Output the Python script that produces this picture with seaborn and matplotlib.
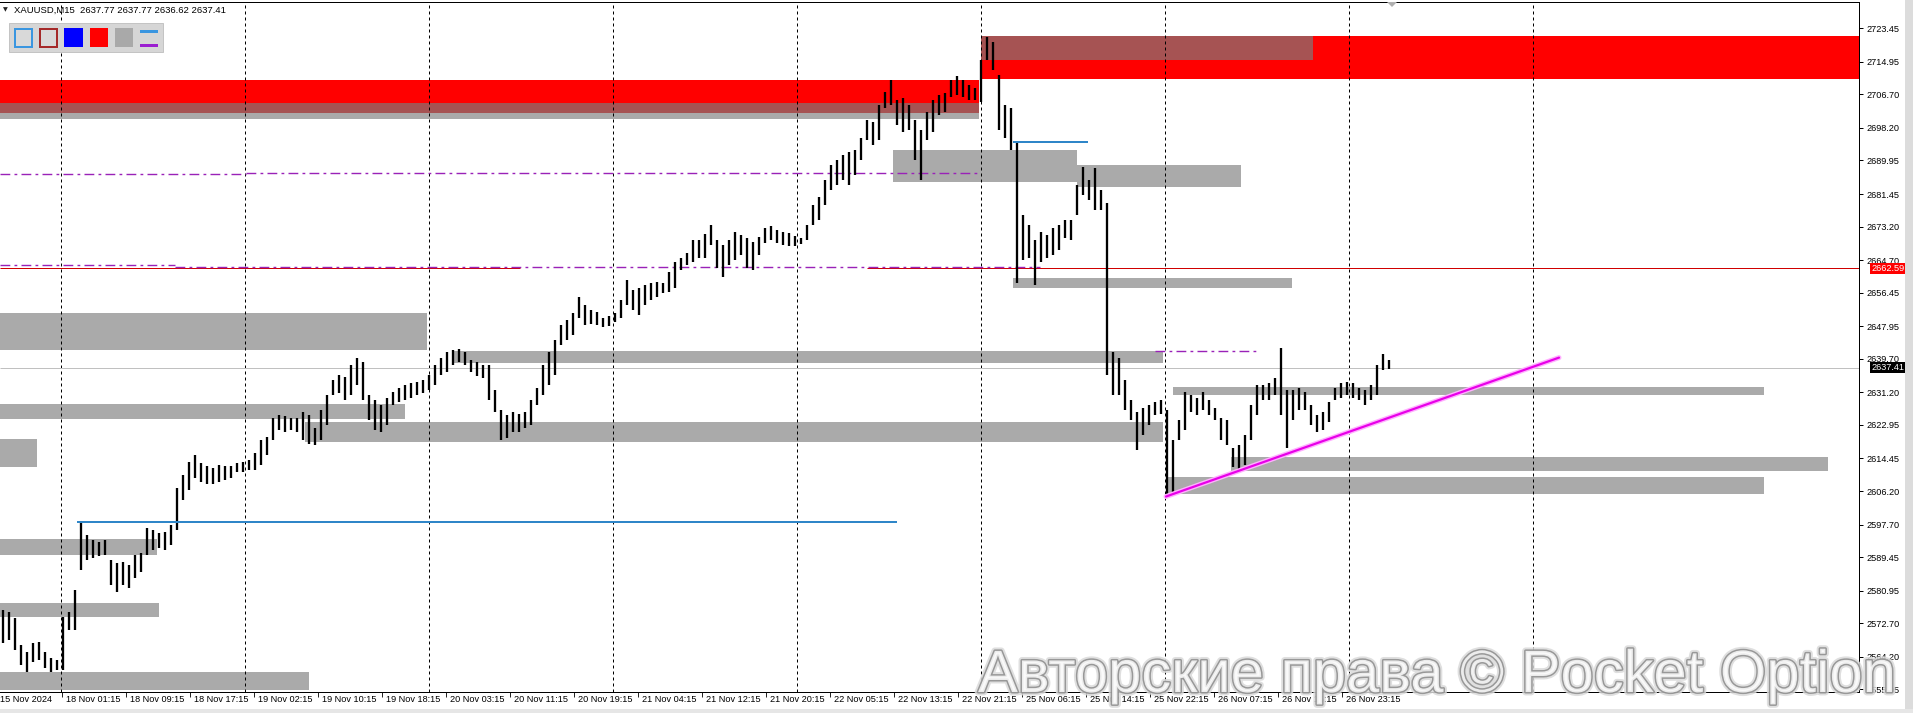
import numpy as np
import pandas as pd
import matplotlib
matplotlib.use('Agg')
import matplotlib.pyplot as plt
import matplotlib.patches as mpatches
import matplotlib.transforms as mtransforms
import matplotlib.patheffects as pe
import seaborn as sns

sns.set_theme(style='white')
plt.rcParams['font.family'] = ['Liberation Sans', 'DejaVu Sans']

# ---- data (XAUUSD M15), one sample per 3 bars ----
bar_hi = [2576.0, 2575.5, 2574.0, 2567.2, 2565.4, 2567.7, 2567.9, 2565.4, 2563.9, 2563.4,
          2574.3, 2575.5, 2581.1, 2598.1, 2595.0, 2593.8, 2593.3, 2593.8, 2588.7, 2587.9,
          2588.2, 2587.4, 2590.0, 2590.5, 2596.8, 2596.3, 2595.5, 2595.8, 2597.6, 2606.9,
          2610.2, 2613.5, 2615.3, 2613.3, 2612.5, 2612.0, 2612.8, 2612.5, 2612.5, 2613.3,
          2613.5, 2614.0, 2615.8, 2619.1, 2619.9, 2624.7, 2625.4, 2625.2, 2624.7, 2624.7,
          2626.2, 2625.4, 2622.1, 2626.7, 2630.5, 2634.3, 2635.6, 2635.1, 2638.1, 2639.9,
          2638.9, 2630.5, 2629.2, 2628.0, 2629.7, 2631.3, 2632.3, 2633.0, 2633.5, 2633.8,
          2634.3, 2635.6, 2638.1, 2639.9, 2641.4, 2641.9, 2642.2, 2641.4, 2639.4, 2638.9,
          2638.1, 2638.1, 2631.8, 2626.7, 2625.4, 2626.2, 2625.7, 2626.2, 2629.2, 2632.3,
          2638.1, 2641.4, 2644.4, 2648.2, 2649.5, 2651.3, 2655.3, 2653.3, 2652.0, 2651.5,
          2650.0, 2650.5, 2651.3, 2654.6, 2659.6, 2657.1, 2657.6, 2658.4, 2658.9, 2659.1,
          2658.9, 2661.7, 2664.2, 2665.2, 2666.5, 2669.8, 2669.8, 2671.3, 2673.6, 2669.8,
          2668.5, 2669.8, 2671.8, 2671.1, 2670.3, 2669.3, 2670.5, 2672.8, 2673.3, 2672.3,
          2671.8, 2671.6, 2670.8, 2670.3, 2673.6, 2678.7, 2680.7, 2685.0, 2688.8, 2690.1,
          2691.3, 2692.1, 2692.6, 2695.6, 2700.2, 2699.7, 2704.0, 2707.3, 2710.3, 2705.3,
          2705.8, 2704.0, 2700.2, 2697.7, 2702.2, 2705.3, 2706.5, 2707.0, 2710.3, 2711.3,
          2710.3, 2709.1, 2708.3, 2715.4, 2721.2, 2720.0, 2711.6, 2704.0, 2703.2, 2694.6,
          2676.1, 2673.6, 2669.8, 2671.8, 2671.1, 2672.8, 2673.6, 2674.9, 2674.9, 2683.7,
          2688.3, 2685.0, 2688.0, 2682.5, 2679.2, 2641.4, 2639.9, 2634.3, 2629.2, 2626.2,
          2627.2, 2628.0, 2628.7, 2629.2, 2626.7, 2619.1, 2624.2, 2631.3, 2630.5, 2629.7,
          2631.3, 2629.2, 2627.2, 2624.7, 2624.2, 2617.1, 2617.8, 2620.4, 2628.0, 2633.0,
          2633.0, 2633.5, 2634.8, 2642.4, 2631.8, 2631.8, 2632.3, 2631.3, 2628.0, 2625.4,
          2626.2, 2628.7, 2632.3, 2633.5, 2633.8, 2633.5, 2632.3, 2631.8, 2633.0, 2638.1,
          2640.9, 2639.4]
bar_lo = [2567.7, 2568.4, 2565.9, 2562.1, 2560.3, 2562.8, 2563.4, 2561.3, 2560.3, 2560.8,
          2560.8, 2571.0, 2571.0, 2586.2, 2588.7, 2589.2, 2589.7, 2590.0, 2582.4, 2580.6,
          2582.4, 2581.6, 2584.1, 2585.7, 2590.0, 2591.2, 2591.7, 2591.2, 2592.5, 2596.3,
          2603.9, 2606.4, 2609.5, 2608.5, 2608.0, 2608.0, 2608.5, 2609.0, 2609.5, 2611.0,
          2611.0, 2611.5, 2611.5, 2612.8, 2615.3, 2619.1, 2621.6, 2621.1, 2621.6, 2621.1,
          2619.1, 2618.1, 2617.8, 2619.1, 2622.9, 2630.5, 2631.0, 2629.2, 2630.5, 2633.0,
          2629.2, 2624.2, 2621.6, 2621.1, 2622.9, 2628.0, 2628.7, 2629.2, 2629.7, 2630.5,
          2631.0, 2631.8, 2633.0, 2635.6, 2636.3, 2638.1, 2638.9, 2638.1, 2636.3, 2635.3,
          2634.8, 2629.2, 2626.2, 2619.1, 2619.6, 2621.1, 2621.1, 2622.1, 2622.9, 2628.0,
          2630.5, 2633.0, 2635.6, 2643.2, 2644.4, 2645.7, 2650.0, 2648.2, 2648.5, 2648.2,
          2647.7, 2648.0, 2649.0, 2650.0, 2653.3, 2652.0, 2650.8, 2653.3, 2654.6, 2655.3,
          2656.4, 2656.6, 2657.6, 2662.2, 2663.4, 2664.2, 2665.2, 2665.2, 2668.5, 2662.7,
          2660.4, 2663.4, 2664.7, 2666.0, 2662.7, 2662.2, 2666.0, 2669.0, 2669.8, 2669.0,
          2668.5, 2668.3, 2668.3, 2668.8, 2669.8, 2673.6, 2674.9, 2678.7, 2682.5, 2683.7,
          2685.0, 2683.7, 2686.3, 2690.1, 2695.1, 2693.9, 2695.1, 2703.2, 2704.0, 2698.9,
          2697.2, 2697.7, 2690.1, 2685.0, 2695.1, 2697.2, 2701.5, 2702.2, 2706.0, 2706.5,
          2706.0, 2705.3, 2705.3, 2704.8, 2715.4, 2712.9, 2697.7, 2695.6, 2692.6, 2658.9,
          2664.7, 2665.2, 2658.4, 2664.2, 2665.2, 2666.0, 2667.2, 2670.3, 2669.8, 2676.1,
          2681.2, 2679.9, 2677.4, 2677.4, 2635.6, 2630.5, 2630.5, 2626.7, 2624.2, 2616.6,
          2620.4, 2622.9, 2625.4, 2625.7, 2604.7, 2605.2, 2619.1, 2621.6, 2626.2, 2625.4,
          2626.7, 2625.4, 2624.2, 2619.1, 2617.8, 2612.3, 2611.5, 2612.8, 2619.1, 2625.4,
          2629.2, 2629.2, 2630.5, 2625.4, 2617.1, 2624.2, 2626.7, 2626.7, 2622.9, 2621.1,
          2621.6, 2623.7, 2629.2, 2629.7, 2630.5, 2629.7, 2629.2, 2628.0, 2629.2, 2630.5,
          2636.8, 2637.1]

time_labels = ['15 Nov 2024', '18 Nov 01:15', '18 Nov 09:15', '18 Nov 17:15', '19 Nov 02:15',
               '19 Nov 10:15', '19 Nov 18:15', '20 Nov 03:15', '20 Nov 11:15', '20 Nov 19:15',
               '21 Nov 04:15', '21 Nov 12:15', '21 Nov 20:15', '22 Nov 05:15', '22 Nov 13:15',
               '22 Nov 21:15', '25 Nov 06:15', '25 Nov 14:15', '25 Nov 22:15', '26 Nov 07:15',
               '26 Nov 15:15', '26 Nov 23:15']

price_ticks = [2723.45, 2714.95, 2706.70, 2698.20, 2689.95, 2681.45, 2673.20, 2664.70,
               2656.45, 2647.95, 2639.70, 2631.20, 2622.95, 2614.45, 2606.20, 2597.70,
               2589.45, 2580.95, 2572.70, 2564.20, 2555.95]

# zones: start bar, end bar, top price, bottom price
gray_start = [0, 490.5, 446.5, 538.5, 506.5, 0, 226, 0, 152.5, 0, 586.5, 615.5, 583, 0, 0, 0]
gray_end = [489.5, 656.5, 538.5, 620.5, 646, 213.5, 581.5, 202.5, 581.5, 18.5, 882, 914, 882, 79.5, 78.5, 154.5]
gray_top = [2704.5, 2721.5, 2692.6, 2688.8, 2660.2, 2651.3, 2641.7, 2628.2, 2623.7, 2619.4,
            2632.5, 2614.8, 2609.7, 2577.8, 2594.0, 2560.3]
gray_bottom = [2700.4, 2715.4, 2684.5, 2683.2, 2657.6, 2641.9, 2638.6, 2624.4, 2618.6, 2612.3,
               2630.5, 2611.3, 2605.4, 2574.3, 2590.0, 2555.8]

red_start = [0, 490.5]
red_end = [489.5, 935]
red_top = [2710.3, 2721.5]
red_bottom = [2702.0, 2710.6]

level_red = 2662.59
red_level_start = [0, 433.5]
red_level_end = [260, 935]

purple_start = [0, 123, 0, 87.5, 577.5]
purple_end = [123, 488.5, 87.5, 520, 629.5]
purple_price = [2686.45, 2686.83, 2663.5, 2663.0, 2641.7]

blue_start = [38.5, 506.5]
blue_end = [448.5, 544]
blue_price = [2598.4, 2694.7]

bid_price = 2637.41
trend_bars = [583, 779.5]
trend_prices = [2604.8, 2640.0]

grid_bars = [30.5, 122.5, 214.5, 306.5, 398.5, 490.5, 582.5, 674.5, 766.5]

# ---- figure layout (pixel based) ----
W, H = 1913, 713
fig = plt.figure(figsize=(W / 100, H / 100), dpi=100)
fig.patch.set_facecolor('white')
ax_left, ax_right, ax_top, ax_bot = 0, 1859, 2, 692
ax = fig.add_axes([ax_left / W, (H - ax_bot) / H, (ax_right - ax_left) / W, (ax_bot - ax_top) / H])
ax.set_facecolor('white')
ax.set_xlim(0, 929.5)
ax.set_ylim(2555.27, 2730.11)

px = 0.72  # one pixel in points

# vertical grid
for g in grid_bars:
    ax.axvline(g, color='black', lw=px, ls=(0, (3, 3)), zorder=1.2)

# zones
for s, e, t, b in zip(red_start, red_end, red_top, red_bottom):
    ax.add_patch(mpatches.Rectangle((s, b), e - s, t - b, fc='#ff0000', ec='none', zorder=1))
for s, e, t, b in zip(gray_start, gray_end, gray_top, gray_bottom):
    ax.add_patch(mpatches.Rectangle((s, b), e - s, t - b, fc='#aaaaaa', ec='none', zorder=1))
for rs, re_, rt, rb in zip(red_start, red_end, red_top, red_bottom):
    for s, e, t, b in zip(gray_start, gray_end, gray_top, gray_bottom):
        x0, x1 = max(rs, s), min(re_, e)
        y0, y1 = max(rb, b), min(rt, t)
        if x1 > x0 and y1 > y0:
            ax.add_patch(mpatches.Rectangle((x0, y0), x1 - x0, y1 - y0, fc='#a65353', ec='none', zorder=1.1))

# level lines
ax.hlines(bid_price, 0, 935, color='#c0c0c0', lw=px, zorder=1.3)
ax.hlines([level_red] * 2, red_level_start, red_level_end, color='#d00000', lw=px, zorder=1.4)
for s, e, p in zip(purple_start, purple_end, purple_price):
    ax.plot([s, e], [p, p], color='#9a22b8', lw=1.4 * px, ls=(0, (7, 3, 2, 3)), zorder=1.5)

# candles
bars = np.arange(len(bar_hi)) * 3 + 1.5
ax.vlines(bars, bar_lo, bar_hi, color='black', lw=2.3 * px, zorder=3)

# blue levels on top
for s, e, p in zip(blue_start, blue_end, blue_price):
    ax.plot([s, e], [p, p], color='#2f86c8', lw=2 * px, zorder=4, solid_capstyle='butt')

# trend line with glow
trend = pd.DataFrame({'bar': trend_bars, 'price': trend_prices})
sns.lineplot(data=trend, x='bar', y='price', ax=ax, color='#ffb0ff', lw=5 * px, zorder=4)
sns.lineplot(data=trend, x='bar', y='price', ax=ax, color='#e800e8', lw=2.2 * px, zorder=4.1)
ax.set_xlabel('')
ax.set_ylabel('')

# axes styling
ax.spines['left'].set_visible(False)
for side in ['top', 'right', 'bottom']:
    ax.spines[side].set_visible(True)
    ax.spines[side].set_color('black')
    ax.spines[side].set_linewidth(px)

ax.yaxis.tick_right()
ax.set_yticks(price_ticks)
ax.set_yticklabels([f'{p:.2f}' for p in price_ticks])
ax.tick_params(axis='y', which='both', right=True, left=False, direction='out', length=4 * px,
               width=px, pad=2.5, labelsize=6.6, colors='black')

tick_bars = [31.25 + 32 * k for k in range(len(time_labels) - 1)]
ax.set_xticks(tick_bars)
ax.set_xticklabels([])
ax.tick_params(axis='x', which='both', bottom=True, top=False, direction='out', length=5 * px,
               width=px, labelbottom=False)
xt = mtransforms.blended_transform_factory(ax.transData, ax.transAxes)
lab_pos = [0.2] + [b + 1.6 for b in tick_bars]
for pos, lab in zip(lab_pos, time_labels):
    ax.text(pos, -0.0045, lab, transform=xt, ha='left', va='top', fontsize=6.6, color='black', clip_on=False)

# price tags on right axis
yt = mtransforms.blended_transform_factory(ax.transAxes, ax.transData)
ax.text(1871 / 1859, level_red, f'{level_red:.2f}', transform=yt, ha='left', va='center', fontsize=6.6,
        color='white', bbox=dict(boxstyle='square,pad=0.12', fc='#ff0000', ec='none'), clip_on=False, zorder=6)
ax.text(1871 / 1859, bid_price, f'{bid_price:.2f}', transform=yt, ha='left', va='center', fontsize=6.6,
        color='white', bbox=dict(boxstyle='square,pad=0.12', fc='black', ec='none'), clip_on=False, zorder=6)


def fx(x):
    return x / W


def fy(y):
    return 1 - y / H


# window frame strips
fig.patches.append(mpatches.Rectangle((fx(1905), 0), fx(8), 1, transform=fig.transFigure,
                                      fc='#dcdcdc', ec='none', zorder=0))
fig.patches.append(mpatches.Rectangle((0, 0), 1, 4 / H, transform=fig.transFigure,
                                      fc='#e6e6e6', ec='none', zorder=0))

# chart shift marker
fig.patches.append(mpatches.Polygon([(fx(1387), fy(2)), (fx(1397), fy(2)), (fx(1392), fy(7))],
                                    closed=True, transform=fig.transFigure, fc='#b0b0b0', ec='none', zorder=5))

# header
fig.text(fx(3), fy(10), '\u25bc', fontsize=4.5, color='#222222', va='center', ha='left',
         family=['DejaVu Sans'])
fig.text(fx(14), fy(10), 'XAUUSD,M15  2637.77 2637.77 2636.62 2637.41', fontsize=6.8,
         color='black', va='center', ha='left')

# toolbar panel
fig.patches.append(mpatches.Rectangle((fx(9), fy(52)), fx(154), 29 / H, transform=fig.transFigure,
                                      fc='#d6d6d6', ec='#c4c4c4', lw=px, zorder=5))
squares = [('#d9d9d9', '#3a96e0'), ('#d9d9d9', '#a52a2a'), ('#0000ff', None), ('#ff0000', None), ('#a9a9a9', None)]
for i, (fc, ec) in enumerate(squares):
    x0 = 14 + i * 25.2
    if ec:
        fig.patches.append(mpatches.Rectangle((fx(x0 + 1), fy(47)), fx(17), 18 / H, transform=fig.transFigure,
                                              fc=fc, ec=ec, lw=2 * px, zorder=6))
    else:
        fig.patches.append(mpatches.Rectangle((fx(x0), fy(47)), fx(18.5), 19 / H, transform=fig.transFigure,
                                              fc=fc, ec='none', zorder=6))
fig.patches.append(mpatches.Rectangle((fx(140), fy(33)), fx(18), 3 / H, transform=fig.transFigure,
                                      fc='#3a96e0', ec='none', zorder=6))
fig.patches.append(mpatches.Rectangle((fx(140), fy(47)), fx(18), 3 / H, transform=fig.transFigure,
                                      fc='#9b1fd0', ec='none', zorder=6))

# watermark
wm = fig.text(fx(978), fy(692), 'Авторские права © Pocket Option', fontsize=43, color='#fbfbfb',
              family=['Liberation Sans', 'DejaVu Sans'], va='baseline', ha='left', alpha=0.85, zorder=20)
wm.set_path_effects([pe.Stroke(linewidth=5, foreground='#dadada'),
                     pe.Stroke(linewidth=2.2, foreground='#8c8c8c'),
                     pe.Normal()])

fig.savefig('out.png', dpi=100)
